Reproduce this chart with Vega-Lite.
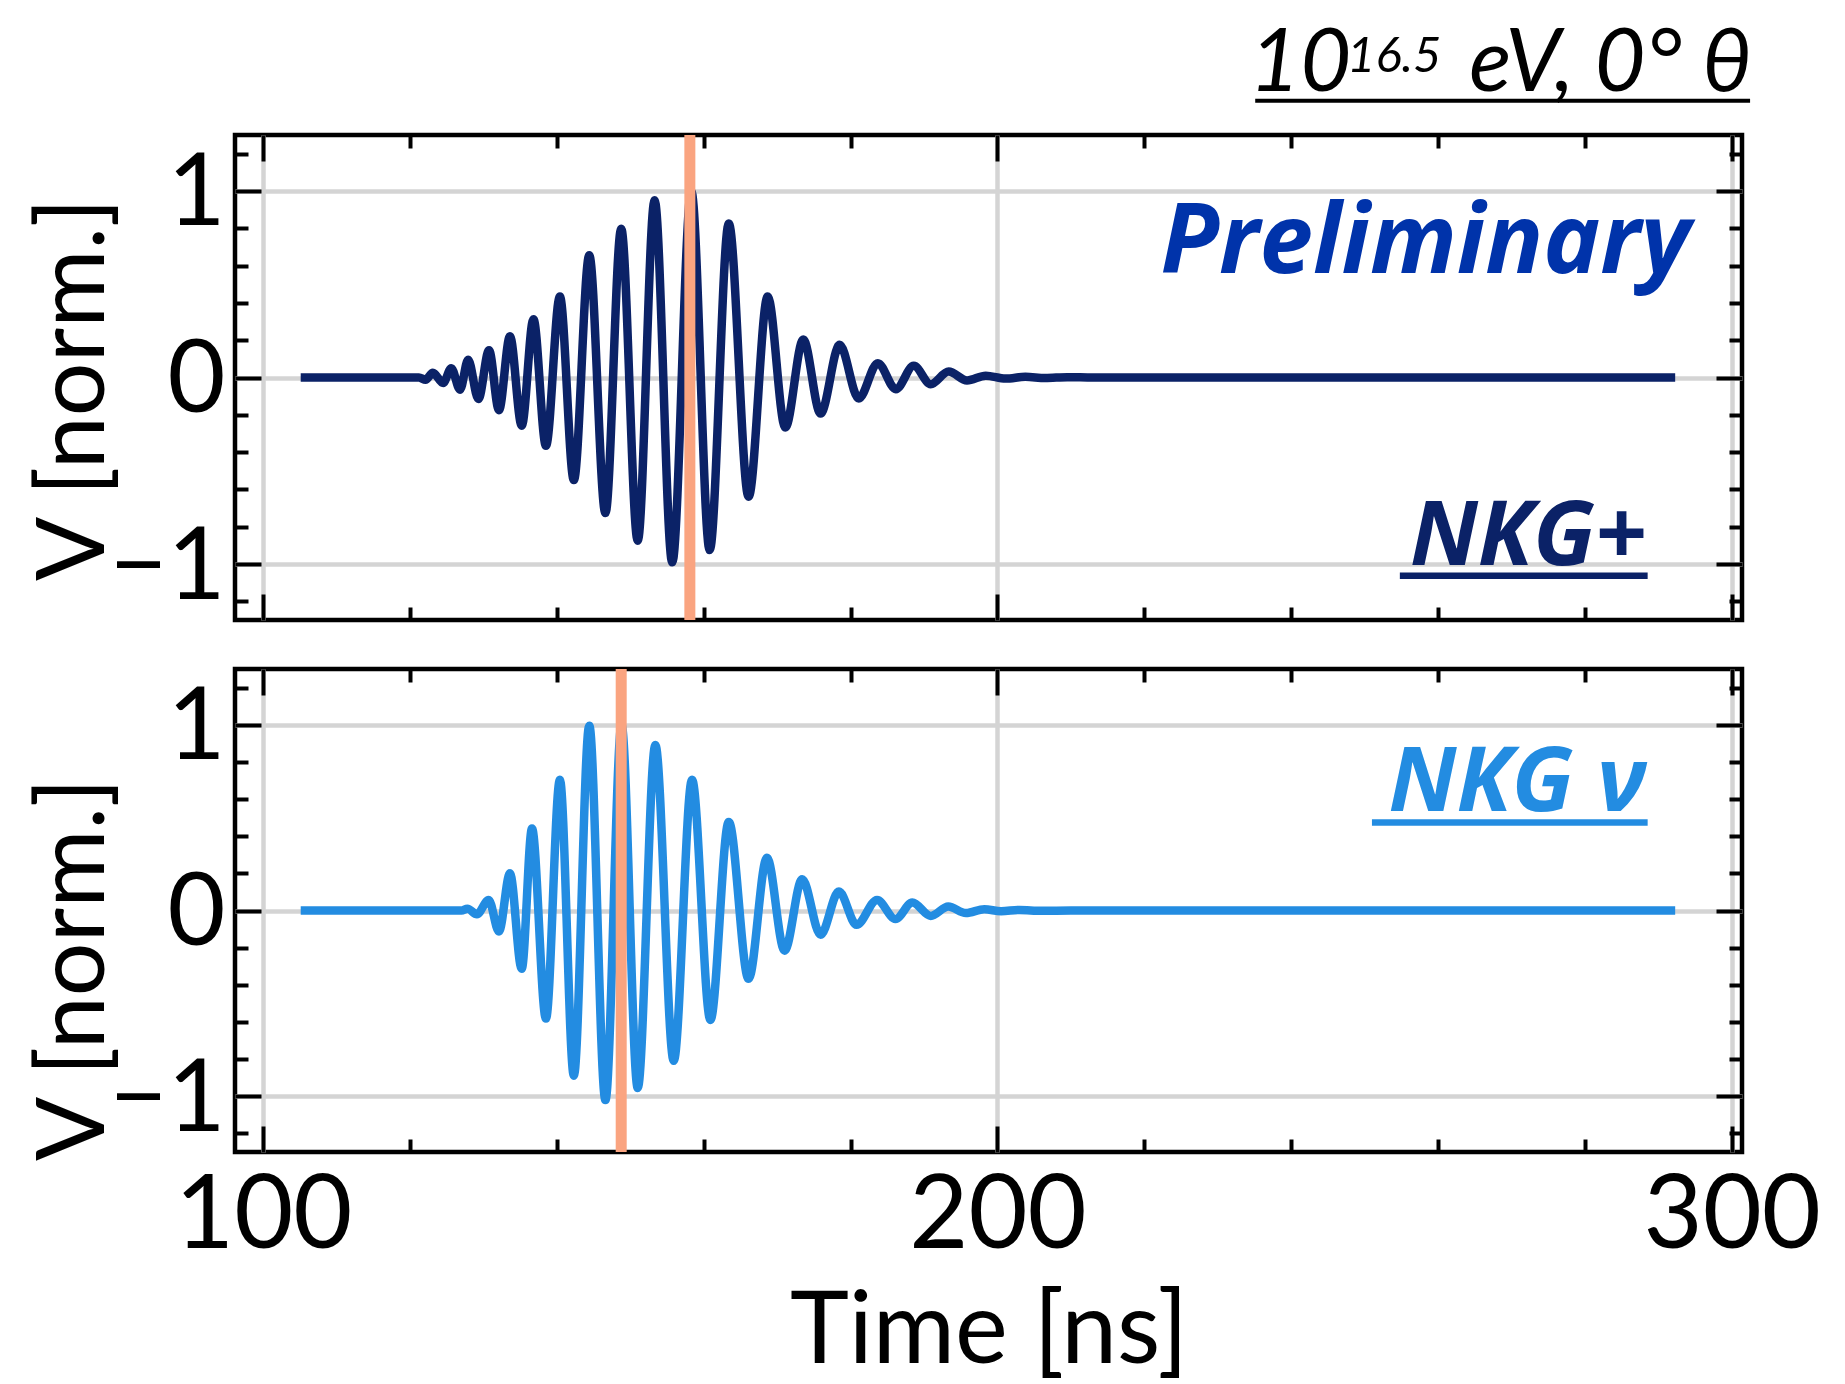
{
  "$schema": "https://vega.github.io/schema/vega-lite/v6.json",
  "padding": {"left": 24, "top": 18, "right": 10, "bottom": 0},
  "background": "white",
  "bounds": "flush",
  "spacing": 49,
  "config": {
    "view": {"stroke": "#000000", "strokeWidth": 4.5},
    "font": "Lato",
    "axis": {
      "domain": false,
      "labelFont": "Lato",
      "titleFont": "Lato",
      "labelColor": "#000000",
      "titleColor": "#000000",
      "titleFontWeight": "normal",
      "tickColor": "#000000",
      "tickWidth": 4,
      "gridColor": "#d4d4d4",
      "gridWidth": 4.5,
      "zindex": 0
    }
  },
  "datasets": {
    "nkgplus": [
      {"t": 105.1, "v": 0}, {"t": 121.2, "v": 0}, {"t": 122.1, "v": -0.012}, {"t": 123.1, "v": 0.025},
      {"t": 124.5, "v": -0.03}, {"t": 125.6, "v": 0.05}, {"t": 126.8, "v": -0.065}, {"t": 127.9, "v": 0.095},
      {"t": 129.3, "v": -0.115}, {"t": 130.75, "v": 0.146}, {"t": 132.1, "v": -0.175}, {"t": 133.6, "v": 0.221},
      {"t": 135.2, "v": -0.259}, {"t": 136.8, "v": 0.3125}, {"t": 138.5, "v": -0.366}, {"t": 140.4, "v": 0.434},
      {"t": 142.3, "v": -0.55}, {"t": 144.4, "v": 0.655}, {"t": 146.6, "v": -0.727}, {"t": 148.75, "v": 0.798},
      {"t": 151.0, "v": -0.875}, {"t": 153.3, "v": 0.95}, {"t": 155.7, "v": -0.991}, {"t": 158.3, "v": 1.0},
      {"t": 160.8, "v": -0.925}, {"t": 163.4, "v": 0.825}, {"t": 166.1, "v": -0.639}, {"t": 168.7, "v": 0.434},
      {"t": 171.1, "v": -0.268}, {"t": 173.55, "v": 0.204}, {"t": 175.9, "v": -0.193}, {"t": 178.5, "v": 0.175},
      {"t": 181.1, "v": -0.1125}, {"t": 183.7, "v": 0.077}, {"t": 186.15, "v": -0.0625}, {"t": 188.6, "v": 0.0625},
      {"t": 190.9, "v": -0.036}, {"t": 193.35, "v": 0.032}, {"t": 195.85, "v": -0.016}, {"t": 198.4, "v": 0.01},
      {"t": 201.1, "v": -0.006}, {"t": 203.8, "v": 0.004}, {"t": 206.5, "v": -0.003}, {"t": 209.5, "v": 0.002},
      {"t": 213.0, "v": 0}, {"t": 292.3, "v": 0}
    ],
    "nkgnu": [
      {"t": 105.1, "v": 0}, {"t": 127.0, "v": 0}, {"t": 127.8, "v": 0.01}, {"t": 129.1, "v": -0.02},
      {"t": 130.7, "v": 0.057}, {"t": 132.1, "v": -0.1125}, {"t": 133.6, "v": 0.2}, {"t": 135.2, "v": -0.314},
      {"t": 136.6, "v": 0.441}, {"t": 138.5, "v": -0.582}, {"t": 140.4, "v": 0.704}, {"t": 142.3, "v": -0.889},
      {"t": 144.4, "v": 0.995}, {"t": 146.6, "v": -1.02}, {"t": 148.8, "v": 0.998}, {"t": 151.0, "v": -0.955},
      {"t": 153.4, "v": 0.891}, {"t": 155.9, "v": -0.809}, {"t": 158.4, "v": 0.704}, {"t": 160.9, "v": -0.589},
      {"t": 163.4, "v": 0.477}, {"t": 166.1, "v": -0.368}, {"t": 168.6, "v": 0.284}, {"t": 171.0, "v": -0.216},
      {"t": 173.4, "v": 0.168}, {"t": 175.9, "v": -0.13}, {"t": 178.4, "v": 0.102}, {"t": 180.8, "v": -0.077},
      {"t": 183.6, "v": 0.057}, {"t": 186.1, "v": -0.046}, {"t": 188.4, "v": 0.043}, {"t": 190.9, "v": -0.029},
      {"t": 193.3, "v": 0.021}, {"t": 195.7, "v": -0.014}, {"t": 198.2, "v": 0.007}, {"t": 200.5, "v": -0.004},
      {"t": 203.0, "v": 0.003}, {"t": 206.0, "v": -0.002}, {"t": 210.0, "v": 0}, {"t": 292.3, "v": 0}
    ]
  },
  "vconcat": [
    {
      "width": 1507,
      "height": 485,
      "resolve": {"axis": {"x": "independent", "y": "independent"}},
      "layer": [
        {
          "data": {"name": "nkgplus"},
          "mark": {"type": "line", "interpolate": "monotone", "strokeWidth": 8.5, "color": "#0b2267", "strokeCap": "butt"},
          "encoding": {
            "x": {"field": "t", "type": "quantitative", "scale": {"domain": [96.15, 301.4], "nice": false, "zero": false},
              "axis": {"orient": "bottom", "values": [100,120,140,160,180,200,220,240,260,280,300], "labels": false, "title": null, "grid": true,
                "gridOpacity": {"condition": {"test": "datum.value % 100 === 0", "value": 1}, "value": 0},
                "tickSize": {"condition": {"test": "datum.value % 100 === 0", "value": -26}, "value": -13}}},
            "y": {"field": "v", "type": "quantitative", "scale": {"domain": [-1.3, 1.3], "nice": false, "zero": false},
              "axis": {"orient": "left", "values": [-1.2,-1,-0.8,-0.6,-0.4,-0.2,0,0.2,0.4,0.6,0.8,1,1.2], "labels": false, "title": null, "grid": true,
                "gridOpacity": {"condition": {"test": "abs(datum.value - round(datum.value)) < 0.000001", "value": 1}, "value": 0},
                "tickSize": {"condition": {"test": "abs(datum.value - round(datum.value)) < 0.000001", "value": -26}, "value": -13}}}
          }
        },
        {
          "data": {"values": [{"t": 158.1}]},
          "mark": {"type": "rule", "color": "#faa480", "strokeWidth": 11},
          "encoding": {
            "x": {"field": "t", "type": "quantitative", "scale": {"domain": [96.15, 301.4], "nice": false, "zero": false},
              "axis": {"orient": "top", "values": [100,120,140,160,180,200,220,240,260,280,300], "labels": false, "title": null, "grid": false,
                "tickSize": {"condition": {"test": "datum.value % 100 === 0", "value": -26}, "value": -13}}}
          }
        },
        {
          "data": {"values": [{"label": "NKG+"}]},
          "mark": {"type": "text", "font": "Open Sans", "fontSize": 90, "fontStyle": "italic", "fontWeight": "bold", "align": "right", "baseline": "alphabetic", "color": "#0b2267"},
          "encoding": {
            "text": {"field": "label"},
            "x": {"datum": 288.4, "type": "quantitative", "scale": {"domain": [96.15, 301.4], "nice": false, "zero": false}, "axis": null},
            "y": {"datum": -1.005, "type": "quantitative", "scale": {"domain": [-1.3, 1.3], "nice": false, "zero": false},
              "axis": {"orient": "left", "values": [-1, 0, 1], "ticks": false, "grid": false, "labelFontSize": 100, "labelPadding": 10, "labelOffset": 4, "labelFlush": false,
                "title": "V [norm.]", "titleFontSize": 95, "titlePadding": -14, "titleY": 254}}
          }
        },
        {
          "data": {"values": [{"label": "NKG+"}]},
          "mark": {"type": "rule", "color": "#0b2267", "strokeWidth": 6.5},
          "encoding": {
            "x": {"datum": 254.8, "type": "quantitative", "scale": {"domain": [96.15, 301.4], "nice": false, "zero": false}, "axis": null},
            "x2": {"datum": 288.55},
            "y": {"datum": -1.063, "type": "quantitative", "scale": {"domain": [-1.3, 1.3], "nice": false, "zero": false},
              "axis": {"orient": "right", "values": [-1.2,-1,-0.8,-0.6,-0.4,-0.2,0,0.2,0.4,0.6,0.8,1,1.2], "labels": false, "title": null, "grid": false,
                "tickSize": {"condition": {"test": "abs(datum.value - round(datum.value)) < 0.000001", "value": -26}, "value": -13}}}
          }
        },
        {
          "data": {"values": [{"label": "Preliminary"}]},
          "mark": {"type": "text", "font": "Open Sans", "fontSize": 96, "fontStyle": "italic", "fontWeight": "bold", "align": "right", "baseline": "alphabetic", "color": "#0033aa"},
          "encoding": {
            "text": {"field": "label"},
            "x": {"datum": 294.4, "type": "quantitative", "scale": {"domain": [96.15, 301.4], "nice": false, "zero": false}, "axis": null},
            "y": {"datum": 0.56, "type": "quantitative", "scale": {"domain": [-1.3, 1.3], "nice": false, "zero": false}, "axis": null}
          }
        },
        {
          "data": {"values": [{"label": "10"}]},
          "mark": {"type": "text", "font": "Lato", "fontSize": 88, "fontStyle": "italic", "align": "left", "baseline": "alphabetic", "color": "#000000"},
          "encoding": {
            "text": {"field": "label"},
            "x": {"datum": 234.3, "type": "quantitative", "scale": {"domain": [96.15, 301.4], "nice": false, "zero": false}, "axis": null},
            "y": {"datum": 1.536, "type": "quantitative", "scale": {"domain": [-1.3, 1.3], "nice": false, "zero": false}, "axis": null}
          }
        },
        {
          "data": {"values": [{"label": "16.5"}]},
          "mark": {"type": "text", "font": "Lato", "fontSize": 49, "fontStyle": "italic", "align": "left", "baseline": "alphabetic", "color": "#000000"},
          "encoding": {
            "text": {"field": "label"},
            "x": {"datum": 247.6, "type": "quantitative", "scale": {"domain": [96.15, 301.4], "nice": false, "zero": false}, "axis": null},
            "y": {"datum": 1.638, "type": "quantitative", "scale": {"domain": [-1.3, 1.3], "nice": false, "zero": false}, "axis": null}
          }
        },
        {
          "data": {"values": [{"label": "eV, 0° θ"}]},
          "mark": {"type": "text", "font": "Lato", "fontSize": 88, "fontStyle": "italic", "align": "right", "baseline": "alphabetic", "color": "#000000"},
          "encoding": {
            "text": {"field": "label"},
            "x": {"datum": 302.7, "type": "quantitative", "scale": {"domain": [96.15, 301.4], "nice": false, "zero": false}, "axis": null},
            "y": {"datum": 1.536, "type": "quantitative", "scale": {"domain": [-1.3, 1.3], "nice": false, "zero": false}, "axis": null}
          }
        },
        {
          "data": {"values": [{"label": "title underline"}]},
          "mark": {"type": "rule", "color": "#000000", "strokeWidth": 4},
          "encoding": {
            "x": {"datum": 235.1, "type": "quantitative", "scale": {"domain": [96.15, 301.4], "nice": false, "zero": false}, "axis": null},
            "x2": {"datum": 302.5},
            "y": {"datum": 1.483, "type": "quantitative", "scale": {"domain": [-1.3, 1.3], "nice": false, "zero": false}, "axis": null}
          }
        }
      ]
    },
    {
      "width": 1507,
      "height": 483,
      "resolve": {"axis": {"x": "independent", "y": "independent"}},
      "layer": [
        {
          "data": {"name": "nkgnu"},
          "mark": {"type": "line", "interpolate": "monotone", "strokeWidth": 8.5, "color": "#238ce1", "strokeCap": "butt"},
          "encoding": {
            "x": {"field": "t", "type": "quantitative", "scale": {"domain": [96.15, 301.4], "nice": false, "zero": false},
              "axis": {"orient": "bottom", "values": [100,120,140,160,180,200,220,240,260,280,300], "labels": false, "title": null, "grid": true,
                "gridOpacity": {"condition": {"test": "datum.value % 100 === 0", "value": 1}, "value": 0},
                "tickSize": {"condition": {"test": "datum.value % 100 === 0", "value": -26}, "value": -13}}},
            "y": {"field": "v", "type": "quantitative", "scale": {"domain": [-1.3, 1.3], "nice": false, "zero": false},
              "axis": {"orient": "left", "values": [-1.2,-1,-0.8,-0.6,-0.4,-0.2,0,0.2,0.4,0.6,0.8,1,1.2], "labels": false, "title": null, "grid": true,
                "gridOpacity": {"condition": {"test": "abs(datum.value - round(datum.value)) < 0.000001", "value": 1}, "value": 0},
                "tickSize": {"condition": {"test": "abs(datum.value - round(datum.value)) < 0.000001", "value": -26}, "value": -13}}}
          }
        },
        {
          "data": {"values": [{"t": 148.75}]},
          "mark": {"type": "rule", "color": "#faa480", "strokeWidth": 11},
          "encoding": {
            "x": {"field": "t", "type": "quantitative", "scale": {"domain": [96.15, 301.4], "nice": false, "zero": false},
              "axis": {"orient": "top", "values": [100,120,140,160,180,200,220,240,260,280,300], "labels": false, "title": null, "grid": false,
                "tickSize": {"condition": {"test": "datum.value % 100 === 0", "value": -26}, "value": -13}}}
          }
        },
        {
          "data": {"values": [{"label": "NKG ν"}]},
          "mark": {"type": "text", "font": "Open Sans", "fontSize": 90, "fontStyle": "italic", "fontWeight": "bold", "align": "right", "baseline": "alphabetic", "color": "#238ce1"},
          "encoding": {
            "text": {"field": "label"},
            "x": {"datum": 288.4, "type": "quantitative", "scale": {"domain": [96.15, 301.4], "nice": false, "zero": false},
              "axis": {"orient": "bottom", "values": [100, 200, 300], "ticks": false, "grid": false, "labelFontSize": 102, "labelPadding": 14, "labelFlush": false,
                "title": "Time [ns]", "titleFontSize": 100, "titlePadding": 16}},
            "y": {"datum": 0.537, "type": "quantitative", "scale": {"domain": [-1.3, 1.3], "nice": false, "zero": false},
              "axis": {"orient": "left", "values": [-1, 0, 1], "ticks": false, "grid": false, "labelFontSize": 100, "labelPadding": 10, "labelOffset": 4, "labelFlush": false,
                "title": "V [norm.]", "titleFontSize": 95, "titlePadding": -14, "titleY": 300}}
          }
        },
        {
          "data": {"values": [{"label": "NKG ν"}]},
          "mark": {"type": "rule", "color": "#238ce1", "strokeWidth": 6.5},
          "encoding": {
            "x": {"datum": 251.0, "type": "quantitative", "scale": {"domain": [96.15, 301.4], "nice": false, "zero": false}, "axis": null},
            "x2": {"datum": 288.55},
            "y": {"datum": 0.474, "type": "quantitative", "scale": {"domain": [-1.3, 1.3], "nice": false, "zero": false},
              "axis": {"orient": "right", "values": [-1.2,-1,-0.8,-0.6,-0.4,-0.2,0,0.2,0.4,0.6,0.8,1,1.2], "labels": false, "title": null, "grid": false,
                "tickSize": {"condition": {"test": "abs(datum.value - round(datum.value)) < 0.000001", "value": -26}, "value": -13}}}
          }
        }
      ]
    }
  ]
}
